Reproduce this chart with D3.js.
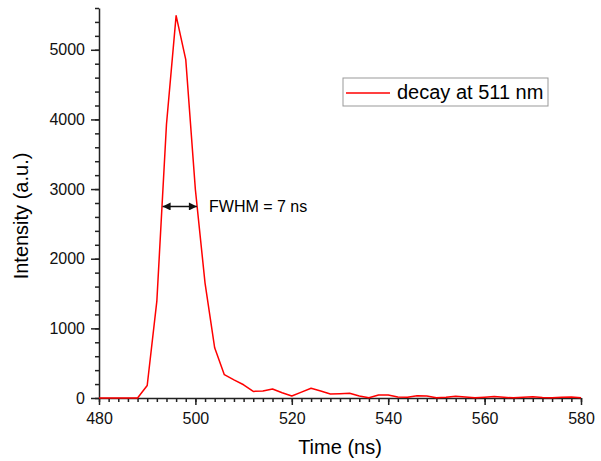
<!DOCTYPE html>
<html>
<head>
<meta charset="utf-8">
<script src="https://cdn.jsdelivr.net/npm/d3@7"></script>
<style>
  body { margin: 0; background: #fff; }
  svg { font-family: Arial, "Liberation Sans", sans-serif; }
  .axis path, .axis line { stroke: #222; stroke-width: 1.5; }
  .axis text { font-size: 16px; fill: #111; font-family: Arial, "Liberation Sans", sans-serif; }
</style>
</head>
<body>
<svg id="chart" width="601" height="461"></svg>
<script>
// decay trace, one sample every 2 ns
const times = d3.range(480, 581, 2);
const intensity = [
  0, 0, 0, 0, 0, 180, 1390, 3930, 5490, 4860,
  2990, 1650, 720, 335, 260, 190, 95, 100, 130, 75,
  28, 85, 140, 100, 58, 62, 67, 28, 5, 43,
  43, 15, 10, 33, 28, 5, 10, 25, 15, 2,
  10, 20, 10, 2, 12, 18, 8, 2, 12, 15,
  5
];
const xTicks = [480, 500, 520, 540, 560, 580];
const yTicks = [0, 1000, 2000, 3000, 4000, 5000];
const seriesName = "decay at 511 nm";
const fwhmLevel = 2750;
const fwhmRange = [493.2, 500.3];
const fwhmLabel = "FWHM = 7 ns";

const data = times.map((t, i) => ({ x: t, y: intensity[i] }));

const svg = d3.select("#chart");

const x = d3.scaleLinear().domain([480, 580]).range([99, 581]);
const y = d3.scaleLinear().domain([0, 5600]).range([398, 8]);

// minor ticks first
svg.append("g")
  .attr("class", "axis")
  .attr("transform", "translate(0," + y(0) + ")")
  .call(d3.axisBottom(x).tickValues(d3.range(480, 581, 2)).tickSize(4).tickFormat(""))
  .call(g => g.select(".domain").remove());

svg.append("g")
  .attr("class", "axis")
  .attr("transform", "translate(" + x(480) + ",0)")
  .call(d3.axisLeft(y).tickValues(d3.range(0, 5601, 200)).tickSize(4).tickFormat(""))
  .call(g => g.select(".domain").remove());

// major axes
const xAxis = svg.append("g")
  .attr("class", "axis")
  .attr("transform", "translate(0," + y(0) + ")")
  .call(d3.axisBottom(x).tickValues(xTicks).tickFormat(d3.format("d"))
    .tickSizeInner(7).tickSizeOuter(0).tickPadding(8));
xAxis.selectAll("text").attr("dy", "0.71em");

svg.append("g")
  .attr("class", "axis")
  .attr("transform", "translate(" + x(480) + ",0)")
  .call(d3.axisLeft(y).tickValues(yTicks).tickFormat(d3.format("d"))
    .tickSizeInner(8).tickSizeOuter(0).tickPadding(6));

// axis titles
svg.append("text")
  .attr("x", (x(480) + x(580)) / 2)
  .attr("y", 454)
  .attr("text-anchor", "middle")
  .style("font-size", "20px")
  .text("Time (ns)");

svg.append("text")
  .attr("transform", "translate(28,216) rotate(-90)")
  .attr("text-anchor", "middle")
  .style("font-size", "20px")
  .text("Intensity (a.u.)");

// the trace
const line = d3.line()
  .x(d => x(d.x))
  .y(d => y(d.y));

svg.append("path")
  .datum(data)
  .attr("fill", "none")
  .attr("stroke", "#ff0000")
  .attr("stroke-width", 1.5)
  .attr("stroke-linejoin", "round")
  .attr("d", line);

// FWHM double arrow
const defs = svg.append("defs");
defs.append("marker")
  .attr("id", "arrow")
  .attr("viewBox", "0 0 10 10")
  .attr("refX", 10).attr("refY", 5)
  .attr("markerWidth", 10).attr("markerHeight", 8)
  .attr("markerUnits", "userSpaceOnUse")
  .attr("orient", "auto-start-reverse")
  .append("path")
  .attr("d", "M0,0 L10,5 L0,10 z")
  .attr("fill", "#111");

svg.append("line")
  .attr("x1", x(fwhmRange[0])).attr("x2", x(fwhmRange[1]))
  .attr("y1", y(fwhmLevel)).attr("y2", y(fwhmLevel))
  .attr("stroke", "#111")
  .attr("stroke-width", 1.5)
  .attr("marker-start", "url(#arrow)")
  .attr("marker-end", "url(#arrow)");

svg.append("text")
  .attr("x", 209)
  .attr("y", y(fwhmLevel) + 6)
  .style("font-size", "16px")
  .text(fwhmLabel);

// legend
const legend = svg.append("g").attr("transform", "translate(343,78)");
legend.append("rect")
  .attr("width", 205).attr("height", 28)
  .attr("fill", "#fff")
  .attr("stroke", "#999")
  .attr("stroke-width", 1);
legend.append("line")
  .attr("x1", 3).attr("x2", 47)
  .attr("y1", 15).attr("y2", 15)
  .attr("stroke", "#ff0000")
  .attr("stroke-width", 1.5);
legend.append("text")
  .attr("x", 54).attr("y", 21)
  .style("font-size", "20px")
  .text(seriesName);
</script>
</body>
</html>
